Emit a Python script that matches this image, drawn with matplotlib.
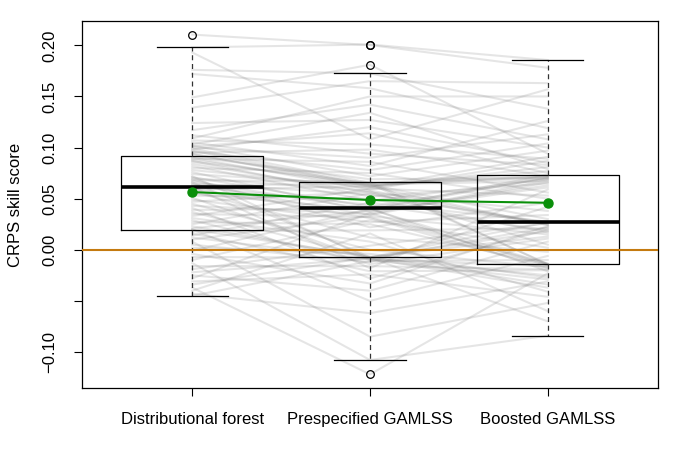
import matplotlib
matplotlib.use("Agg")
import matplotlib.pyplot as plt

# CRPS skill score per station, one list per model (same station order)
models = ["Distributional forest", "Prespecified GAMLSS", "Boosted GAMLSS"]

forest = [-0.045, -0.043, -0.040, -0.037, -0.034, -0.031, -0.028, -0.025, -0.022, -0.019,
          -0.016, -0.013, -0.010, -0.007, -0.004, -0.001, 0.002, 0.005, 0.008, 0.010,
          0.012, 0.014, 0.016, 0.018, 0.0198, 0.020, 0.021, 0.023, 0.025, 0.027,
          0.029, 0.031, 0.033, 0.035, 0.037, 0.039, 0.041, 0.043, 0.045, 0.047,
          0.049, 0.051, 0.053, 0.055, 0.057, 0.059, 0.060, 0.0615, 0.062, 0.063,
          0.064, 0.065, 0.066, 0.067, 0.068, 0.069, 0.070, 0.071, 0.072, 0.074,
          0.076, 0.078, 0.080, 0.082, 0.084, 0.086, 0.087, 0.088, 0.089, 0.090,
          0.091, 0.0934, 0.094, 0.095, 0.096, 0.097, 0.098, 0.099, 0.100, 0.101,
          0.102, 0.103, 0.105, 0.107, 0.109, 0.112, 0.117, 0.124, 0.139, 0.149,
          0.172, 0.176, 0.193, 0.198, 0.2105]

gamlss = [-0.011, -0.062, 0.016, -0.1219, -0.0073, -0.024, 0.036, -0.040, -0.0085, 0.004,
          -0.016, -0.1078, 0.029, -0.0078, -0.033, 0.040, -0.004, -0.012, -0.085, 0.033,
          -0.0095, 0.046, -0.021, 0.019, -0.0066, -0.050, 0.038, -0.008, 0.055, 0.025,
          -0.014, 0.008, 0.060, 0.032, -0.0075, 0.0405, -0.028, 0.035, 0.000, 0.057,
          0.027, -0.010, 0.050, 0.039, 0.012, 0.062, 0.031, -0.018, 0.044, 0.0645,
          0.034, 0.054, -0.0072, 0.0395, 0.0665, 0.022, 0.058, 0.042, -0.009, 0.0635,
          0.037, 0.061, 0.075, 0.048, 0.056, 0.065, 0.052, 0.0625, 0.086, 0.059,
          0.069, 0.064, 0.0615, 0.098, 0.078, 0.063, 0.120, 0.0655, 0.090, 0.114,
          0.072, 0.134, 0.082, 0.103, 0.150, 0.094, 0.142, 0.127, 0.165, 0.181,
          0.158, 0.1725, 0.108, 0.2008, 0.2003]

boosted = [-0.010, -0.031, -0.060, -0.023, 0.018, -0.046, -0.0155, 0.008, -0.037, 0.026,
           -0.019, -0.084, 0.002, -0.070, 0.023, -0.014, -0.027, 0.042, -0.052, 0.015,
           -0.016, 0.0275, -0.020, 0.021, -0.034, -0.006, 0.063, -0.025, 0.0245, -0.015,
           0.011, -0.041, 0.053, -0.0135, 0.027, -0.021, 0.020, 0.068, -0.017, 0.005,
           0.034, -0.029, 0.017, 0.071, -0.002, 0.024, -0.018, 0.059, 0.019, -0.0139,
           0.066, 0.0265, 0.013, 0.0734, -0.0145, 0.046, 0.025, 0.070, 0.022, 0.030,
           0.061, 0.081, 0.050, 0.069, 0.038, 0.072, 0.065, 0.077, 0.056, 0.087,
           0.0705, 0.067, 0.091, 0.0724, 0.104, 0.0715, 0.085, 0.0695, 0.113, 0.075,
           0.097, 0.079, 0.126, 0.089, 0.150, 0.083, 0.108, 0.100, 0.163, 0.094,
           0.119, 0.138, 0.157, 0.1856, 0.178]

# overall skill score (green points)
overall = [0.0565, 0.0487, 0.046]

yticks = [-0.10, -0.05, 0.00, 0.05, 0.10, 0.15, 0.20]
ylabels = ["\u22120.10", "", "0.00", "0.05", "0.10", "0.15", "0.20"]

plt.rcParams["font.family"] = ["Liberation Sans", "DejaVu Sans"]
plt.rcParams["font.size"] = 12

fig = plt.figure(figsize=(7, 4.5), dpi=100)
ax = fig.add_axes([82/700, 62/450, 576/700, 367/450])

pos = [1, 2, 3]

# one grey line per station
for a, b, c in zip(forest, gamlss, boosted):
    ax.plot(pos, [a, b, c], color=(0.5, 0.5, 0.5), alpha=0.2, lw=1.5, zorder=1)

ax.boxplot([forest, gamlss, boosted], positions=pos, widths=0.8, whis=1.5,
           patch_artist=False, manage_ticks=False,
           boxprops=dict(color="black", lw=0.9),
           medianprops=dict(color="black", lw=2.6),
           whiskerprops=dict(color="#333333", lw=0.9, ls=(0, (4, 3))),
           capprops=dict(color="black", lw=0.9),
           capwidths=0.4,
           flierprops=dict(marker="o", markerfacecolor="none", markeredgecolor="black",
                           markersize=5.5, markeredgewidth=0.9),
           zorder=3)

ax.axhline(0, color="#c47a0f", lw=1.5, zorder=4)
ax.plot(pos, overall, color="#0a8f0a", lw=1.5, marker="o", markersize=6.5, zorder=5)

ax.set_xlim(0.38, 3.62)
ax.set_ylim(-0.1352, 0.2238)
ax.set_xticks(pos)
ax.set_xticklabels(models)
ax.set_yticks(yticks)
ax.set_yticklabels(ylabels, rotation=90, va="center")
ax.tick_params(direction="out", length=6, width=0.8, pad=12)
ax.tick_params(axis="x", pad=11)
ax.set_ylabel("CRPS skill score", labelpad=14)
for s in ax.spines.values():
    s.set_linewidth(0.9)

fig.savefig("out.png", dpi=100)
